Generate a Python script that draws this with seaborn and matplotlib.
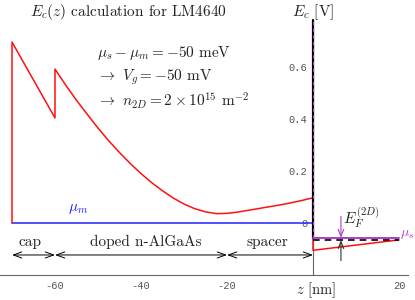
import numpy as np
import matplotlib
matplotlib.use("Agg")
import matplotlib.pyplot as plt
import seaborn as sns

# conduction band edge (z in nm, Ec in V)
cb_z = [-70, -70, -60, -60, -57.5, -55, -52.5, -50, -47.5, -45, -42.5, -40, -37.5, -35,
        -32.5, -30, -27.5, -25, -22.5, -20, -17.5, -15, -12.5, -10, -7.5, -5, -2.5, 0, 0, 20]
cb_v = [0.0, 0.696, 0.404, 0.592, 0.53, 0.472, 0.418, 0.365, 0.316, 0.271, 0.229, 0.19, 0.155, 0.124,
        0.096, 0.073, 0.055, 0.043, 0.036, 0.037, 0.042, 0.049, 0.056, 0.063, 0.07, 0.078, 0.087, 0.097, -0.105, -0.065]

mu_m_z = [-70, 0]
mu_m_v = [0.0, 0.0]
mu_s_z = [0, 20]
mu_s_v = [-0.057, -0.057]
ef_z = [0, 20]
ef_v = [-0.066, -0.066]
barrier_z = [0, 0]
barrier_v = [-0.057, 0.78]

# layer arrows
layers = ["cap", "doped n-AlGaAs", "spacer"]
layer_start = [-70, -60, -20]
layer_end = [-60, -20, 0]
layer_label_z = [-65.8, -39, -10.5]

sns.set_style("white")
plt.rcParams["mathtext.fontset"] = "cm"
plt.rcParams["font.family"] = ["cmr10", "DejaVu Serif"]
plt.rcParams["axes.unicode_minus"] = False

RED = "#ff1010"
BLUE = "#2020ff"
MAG = "#b03cc8"
TXT = "#222222"
FS = 11

fig = plt.figure(figsize=(4.15, 3.0), dpi=100)
ax = fig.add_axes([0, 0, 1, 1])
ax.set_facecolor("white")

sns.lineplot(x=mu_m_z, y=mu_m_v, color=BLUE, lw=1.1, ax=ax, sort=False, estimator=None)
sns.lineplot(x=cb_z, y=cb_v, color=RED, lw=1.1, ax=ax, sort=False, estimator=None)
sns.lineplot(x=barrier_z, y=barrier_v, color="black", lw=1.6, ax=ax, sort=False, estimator=None)
sns.lineplot(x=barrier_z, y=barrier_v, color=MAG, lw=0.8, ls=(0, (3, 3)), ax=ax, sort=False, estimator=None)
sns.lineplot(x=ef_z, y=ef_v, color="black", lw=1.2, ls=(0, (4, 3)), ax=ax, sort=False, estimator=None)
sns.lineplot(x=mu_s_z, y=mu_s_v, color=MAG, lw=1.4, ax=ax, sort=False, estimator=None)

for lab, a, b, zc in zip(layers, layer_start, layer_end, layer_label_z):
    ax.annotate("", xy=(a, -0.123), xytext=(b, -0.123),
                arrowprops=dict(arrowstyle="<->,head_length=0.6,head_width=0.22",
                                lw=0.7, color="black", shrinkA=0, shrinkB=0))
    ax.text(zc, -0.073, lab, ha="center", va="center", fontsize=FS, color=TXT)

# Fermi energy arrows
ax.annotate("", xy=(6.5, -0.057), xytext=(6.5, 0.025),
            arrowprops=dict(arrowstyle="->,head_length=0.5,head_width=0.2",
                            lw=0.8, color=MAG, shrinkA=0, shrinkB=0))
ax.annotate("", xy=(6.5, -0.066), xytext=(6.5, -0.145),
            arrowprops=dict(arrowstyle="->,head_length=0.5,head_width=0.2",
                            lw=0.8, color="#333333", shrinkA=0, shrinkB=0))
ax.text(7.0, 0.02, r"$E_F^{(2D)}$", ha="left", va="center", fontsize=FS, color=TXT)
ax.text(20.2, -0.045, r"$\mu_s$", ha="left", va="center", fontsize=10, color=MAG)
ax.text(-54.7, 0.054, r"$\mu_m$", ha="center", va="center", fontsize=FS, color=BLUE)

ax.text(-43, 0.81, r"$E_c(z)$ calculation for LM4640", ha="center", va="center", fontsize=FS, color=TXT)
ax.text(0, 0.81, r"$E_c$ [V]", ha="center", va="center", fontsize=FS, color=TXT)
ax.text(0.7, -0.258, r"$z$ [nm]", ha="center", va="center", fontsize=10.5, color=TXT)
notes = [r"$\mu_s - \mu_m = -50$ meV", r"$\rightarrow\ V_g = -50$ mV",
         r"$\rightarrow\ n_{2D} = 2 \times 10^{15}$ m$^{-2}$"]
for i, t in enumerate(notes):
    ax.text(-50.2, 0.654 - i * 0.092, t, ha="left", va="center", fontsize=FS, color=TXT)

# Mathematica-like axes crossing at (0, -0.2)
ax.set_xlim(-313 / 4.3, (415 - 313) / 4.3)
ax.set_ylim(-(300 - 223) / 260, 223 / 260)
for s in ["top", "right"]:
    ax.spines[s].set_visible(False)
ax.spines["left"].set_position(("data", 0))
ax.spines["bottom"].set_position(("data", -0.2))
ax.spines["left"].set_bounds(-0.2, 0.78)
ax.spines["bottom"].set_bounds(-72.8, 22.2)
for s in ["left", "bottom"]:
    ax.spines[s].set_color("#666666")
    ax.spines[s].set_linewidth(0.8)
    ax.spines[s].set_zorder(0)

ax.set_xticks([-60, -40, -20, 20])
ax.set_xticklabels(["-60", "-40", "-20", "20"])
ax.set_xticks(np.arange(-70, 21, 5), minor=True)
ax.set_yticks([0, 0.2, 0.4, 0.6])
ax.set_yticklabels(["0", "0.2", "0.4", "0.6"])
ax.set_yticks(np.arange(-0.15, 0.76, 0.05), minor=True)
ax.tick_params(axis="both", which="both", direction="in", color="#666666", width=0.6)
ax.tick_params(axis="both", which="major", length=3.5)
ax.tick_params(axis="both", which="minor", length=2.5)
ax.tick_params(axis="x", pad=4)
ax.tick_params(axis="y", pad=4)
for lab in ax.get_xticklabels() + ax.get_yticklabels():
    lab.set_fontfamily("Liberation Mono")
    lab.set_fontsize(7.5)
    lab.set_color("#555555")
ax.set_xlabel("")
ax.set_ylabel("")
ax.grid(False)

fig.savefig("out.png", dpi=100)
